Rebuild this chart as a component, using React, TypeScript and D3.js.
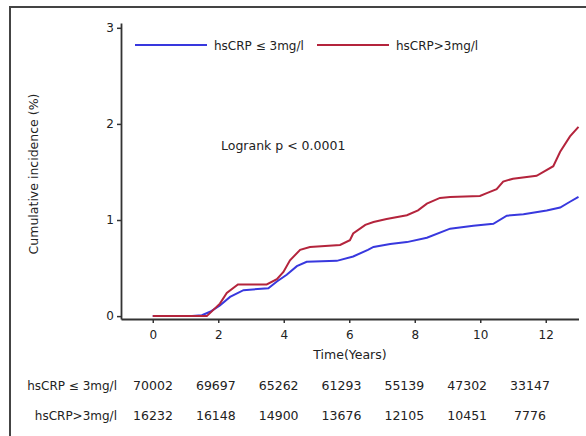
import { useEffect, useRef } from 'react'
import * as d3 from 'd3'

// years, cumulative incidence (%)
const lowYears = [0, 1.2, 1.5, 1.75, 2.05, 2.36, 2.77, 3.53, 3.79, 4.09, 4.4, 4.7, 5.62, 6.12, 6.57, 6.74, 7.25, 7.76, 8.37, 9.08, 9.79, 10.4, 10.81, 11.32, 12.03, 12.44, 12.74, 13.0]
const lowValues = [0, 0, 0.01, 0.045, 0.11, 0.2, 0.27, 0.29, 0.36, 0.43, 0.52, 0.565, 0.575, 0.62, 0.69, 0.72, 0.75, 0.77, 0.815, 0.91, 0.94, 0.96, 1.045, 1.06, 1.1, 1.13, 1.19, 1.24]

const highYears = [0, 1.65, 2.05, 2.26, 2.6, 3.48, 3.79, 3.99, 4.19, 4.5, 4.8, 5.72, 6.02, 6.12, 6.49, 6.74, 7.14, 7.76, 8.1, 8.37, 8.77, 9.08, 9.99, 10.2, 10.5, 10.7, 11.0, 11.72, 11.93, 12.23, 12.44, 12.74, 13.0]
const highValues = [0, 0, 0.13, 0.24, 0.33, 0.33, 0.385, 0.46, 0.58, 0.69, 0.72, 0.74, 0.79, 0.86, 0.95, 0.98, 1.01, 1.05, 1.1, 1.17, 1.23, 1.24, 1.25, 1.28, 1.32, 1.4, 1.43, 1.46, 1.5, 1.56, 1.71, 1.87, 1.97]

const seriesNames = ['hsCRP ≤ 3mg/l', 'hsCRP>3mg/l']
const seriesColors = ['#3838de', '#b4243c']
const xTicks = [0, 2, 4, 6, 8, 10, 12]
const yTicks = [0, 1, 2, 3]
const atRiskLow = [70002, 69697, 65262, 61293, 55139, 47302, 33147]
const atRiskHigh = [16232, 16148, 14900, 13676, 12105, 10451, 7776]

const FONT = '"DejaVu Sans", Verdana, sans-serif'
const INK = '#222'

export default function App() {
  const ref = useRef<SVGSVGElement>(null)
  const width = 586
  const height = 436

  useEffect(() => {
    const svg = d3.select(ref.current)
    svg.selectAll('*').remove()

    // outer frame (cut at right and bottom)
    svg.append('path')
      .attr('d', `M10,${height} V7 H${width}`)
      .attr('fill', 'none')
      .attr('stroke', '#444')
      .attr('stroke-width', 2)

    const x = d3.scaleLinear().domain([-0.97, 13]).range([121, 578.5])
    const y = d3.scaleLinear().domain([-0.03, 3.05]).range([319, 23])

    const xAxis = svg.append('g')
      .attr('transform', `translate(0,${y(-0.03)})`)
      .call(d3.axisBottom(x).tickValues(xTicks).tickFormat(d3.format('d')).tickSize(4).tickSizeOuter(0).tickPadding(7))
    const yAxis = svg.append('g')
      .attr('transform', `translate(${x(-0.97)},0)`)
      .call(d3.axisLeft(y).tickValues(yTicks).tickFormat(d3.format('d')).tickSize(4).tickSizeOuter(0).tickPadding(3))
    for (const ax of [xAxis, yAxis]) {
      ax.select('.domain').attr('stroke', '#333').attr('stroke-width', 1.8)
      ax.selectAll('.tick line').attr('stroke', '#333').attr('stroke-width', 1.5)
      ax.selectAll('text').attr('fill', INK).attr('font-family', FONT).attr('font-size', 12)
    }

    svg.append('text')
      .attr('x', 350).attr('y', 359)
      .attr('text-anchor', 'middle')
      .attr('font-family', FONT).attr('font-size', 12.5).attr('fill', INK)
      .text('Time(Years)')

    svg.append('text')
      .attr('transform', `translate(38,${174}) rotate(-90)`)
      .attr('text-anchor', 'middle')
      .attr('font-family', FONT).attr('font-size', 12.5).attr('fill', INK)
      .text('Cumulative incidence (%)')

    const line = d3.line<[number, number]>()
      .x((d) => x(d[0]))
      .y((d) => y(d[1]))
      .curve(d3.curveLinear)

    const series = [
      d3.zip(lowYears, lowValues) as [number, number][],
      d3.zip(highYears, highValues) as [number, number][],
    ]
    series.forEach((pts, i) => {
      svg.append('path')
        .datum(pts)
        .attr('d', line)
        .attr('fill', 'none')
        .attr('stroke', seriesColors[i])
        .attr('stroke-width', 2)
    })

    // legend
    const legendX = [135, 317]
    seriesNames.forEach((name, i) => {
      svg.append('line')
        .attr('x1', legendX[i]).attr('x2', legendX[i] + 72)
        .attr('y1', 45).attr('y2', 45)
        .attr('stroke', seriesColors[i]).attr('stroke-width', 2)
      svg.append('text')
        .attr('x', legendX[i] + 79).attr('y', 49.5)
        .attr('font-family', FONT).attr('font-size', 12).attr('fill', INK)
        .text(name)
    })

    svg.append('text')
      .attr('x', 221).attr('y', 150)
      .attr('font-family', FONT).attr('font-size', 12.5).attr('fill', INK)
      .text('Logrank p < 0.0001')

    // numbers at risk
    const col = d3.scaleLinear().domain([0, atRiskLow.length - 1]).range([153, 530])
    const rows = [atRiskLow, atRiskHigh]
    const rowY = [390, 420]
    rows.forEach((vals, r) => {
      svg.append('text')
        .attr('x', 117).attr('y', rowY[r])
        .attr('text-anchor', 'end')
        .attr('font-family', FONT).attr('font-size', 12).attr('fill', INK)
        .text(seriesNames[r])
      svg.selectAll(null)
        .data(vals)
        .join('text')
        .attr('x', (_, i) => col(i))
        .attr('y', rowY[r])
        .attr('text-anchor', 'middle')
        .attr('font-family', FONT).attr('font-size', 12.5).attr('fill', INK)
        .text((d) => String(d))
    })
  }, [])

  return (
    <svg
      ref={ref}
      width={width}
      height={height}
      style={{ position: 'absolute', left: 0, top: 0, background: '#fff' }}
    />
  )
}
